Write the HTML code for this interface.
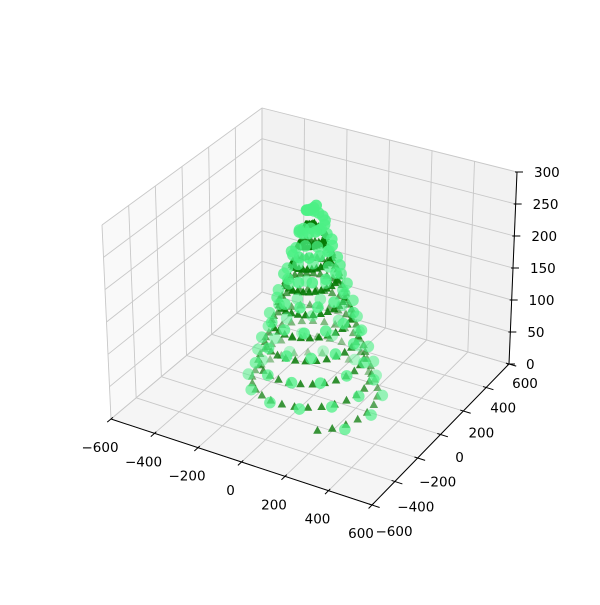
<!DOCTYPE html>
<html><head><meta charset="utf-8"><style>
html,body{margin:0;padding:0;background:#fff;}
svg text{font-family:"DejaVu Sans","Liberation Sans",sans-serif;font-size:13.5px;fill:#000;}
</style></head><body>
<svg id="chart" width="600" height="600" viewBox="0 0 600 600" xmlns="http://www.w3.org/2000/svg">
<rect width="600" height="600" fill="#fff"/>
<g id="panes"></g>
<g id="grid"></g>
<g id="axes"></g>
<g id="tri"></g>
<g id="circ"></g>
</svg>
<script>
// ---- data ----
const xTicks = [-600,-400,-200,0,200,400,600];
const yTicks = [-600,-400,-200,0,200,400,600];
const zTicks = [0,50,100,150,200,250,300];
const xLim = [-600,600], yLim = [-600,600], zLim = [0,300];
// helix descriptors
const triCount = [250];
const triTurns = [9];
const triZRange = [0,272];
const triRadius = [272,26];
const triPhase = [-1.0];
const circCount = [112];
const circTurns = [9];
const circZRange = [0,298];
const circRadius = [290,20];
const circPhase = [-0.6];

const NS = "http://www.w3.org/2000/svg";
function mk(tag, attrs, parent){const e=document.createElementNS(NS,tag);for(const k in attrs)e.setAttribute(k,attrs[k]);parent.appendChild(e);return e;}

const el=30*Math.PI/180, az=-60*Math.PI/180;
const ps=[Math.cos(el)*Math.cos(az),Math.cos(el)*Math.sin(az),Math.sin(el)];
const C000=[111,419], C100=[372,505], C110=[509,364], C010=[262,292];
const C001=[102,225], C101=[375,303], C111=[517,172], C011=[262,108];
function lerp(a,b,t){return [a[0]+(b[0]-a[0])*t,a[1]+(b[1]-a[1])*t];}
function P(x,y,z){
  const tx=(x-xLim[0])/(xLim[1]-xLim[0]), ty=(y-yLim[0])/(yLim[1]-yLim[0]), tz=(z-zLim[0])/(zLim[1]-zLim[0]);
  const b0=lerp(lerp(C000,C100,tx),lerp(C010,C110,tx),ty);
  const b1=lerp(lerp(C001,C101,tx),lerp(C011,C111,tx),ty);
  const s=lerp(b0,b1,tz);
  const depth=-(tx*4*ps[0]+ty*4*ps[1]+tz*3*ps[2]);
  return [s[0],s[1],depth];
}
function pts(list){return list.map(p=>{const q=P(p[0],p[1],p[2]);return q[0].toFixed(2)+","+q[1].toFixed(2);}).join(" ");}

const panes=document.getElementById('panes');
let e;
e=mk('polygon',{points:pts([[-600,-600,0],[-600,600,0],[-600,600,300],[-600,-600,300]]),fill:'#f9f9f9',stroke:'#f9f9f9'},panes);

e=mk('polygon',{points:pts([[-600,600,0],[600,600,0],[600,600,300],[-600,600,300]]),fill:'#f2f2f2',stroke:'#f2f2f2'},panes);

e=mk('polygon',{points:pts([[-600,-600,0],[600,-600,0],[600,600,0],[-600,600,0]]),fill:'#f5f5f5',stroke:'#f5f5f5'},panes);


const grid=document.getElementById('grid');
function line(g,a,b,stroke,sw,name){const p=P(...a),q=P(...b);const l=mk('line',{x1:p[0],y1:p[1],x2:q[0],y2:q[1],stroke:stroke,'stroke-width':sw},g);


return l;}
const gc='#c8c8c8';
xTicks.forEach(x=>{line(grid,[x,-600,0],[x,600,0],gc,0.9,'x-gridline');line(grid,[x,600,0],[x,600,300],gc,0.9,'x-gridline');});
yTicks.forEach(y=>{line(grid,[600,y,0],[-600,y,0],gc,0.9,'y-gridline');line(grid,[-600,y,0],[-600,y,300],gc,0.9,'y-gridline');});
zTicks.forEach(z=>{line(grid,[-600,-600,z],[-600,600,z],gc,0.9,'z-gridline');line(grid,[-600,600,z],[600,600,z],gc,0.9,'z-gridline');});

const axes=document.getElementById('axes');
line(axes,[-600,-600,0],[600,-600,0],'#000',1,'x-axis-line');
line(axes,[600,-600,0],[600,600,0],'#000',1,'y-axis-line');
line(axes,[600,600,0],[600,600,300],'#000',1,'z-axis-line');
function txt(x,y,s,anchor,name){const t=mk('text',{x:x,y:y,'text-anchor':anchor,'dominant-baseline':'central'},axes);t.textContent=s;

}
function lab(n){return n<0?'\u2212'+Math.abs(n):String(n);}
xTicks.forEach(x=>{line(axes,[x,-630,0],[x,-585,0],'#000',1,'x-tick');const p=P(x,-600,0);txt(p[0]-11,p[1]+29,lab(x),'middle','x-tick-label');});
yTicks.forEach((y,i)=>{line(axes,[585,y,0],[635,y,0],'#000',1,'y-tick');const p=P(600,y,0);const f=(y+600)/1200;txt(p[0]+22-6*f,p[1]+27-7*f,lab(y),'middle','y-tick-label');});
zTicks.forEach(z=>{const p=P(600,600,z);const l=mk('line',{x1:p[0]-2,y1:p[1],x2:p[0]+6,y2:p[1],stroke:'#000','stroke-width':1},axes);


txt(p[0]+17,p[1]+1,lab(z),'start','z-tick-label');});

function helix(count,turns,zr,rr,ph){const out=[];for(let i=0;i<count;i++){const t=i/(count-1);const z=zr[0]+(zr[1]-zr[0])*t;const r=rr[0]+(rr[1]-rr[0])*t;const a=ph+turns*2*Math.PI*t;out.push([r*Math.cos(a),r*Math.sin(a),z]);}return out;}
function drawSeries(gid,data,kind){
  const g=document.getElementById(gid);
  const pr=data.map(d=>P(d[0],d[1],d[2]));
  const ds=pr.map(p=>p[2]);const mn=Math.min(...ds),mx=Math.max(...ds);
  const order=pr.map((p,i)=>i).sort((a,b)=>pr[b][2]-pr[a][2]);
  order.forEach(i=>{const p=pr[i];const sat=1-0.7*(p[2]-mn)/((mx-mn)||1);let m;
    if(kind==='tri'){m=mk('polygon',{points:`${p[0]},${p[1]-4.6} ${p[0]-4.3},${p[1]+3.2} ${p[0]+4.3},${p[1]+3.2}`,fill:'#067a06','fill-opacity':(0.95*sat+0.05).toFixed(3)},g);
      }
    else{m=mk('circle',{cx:p[0],cy:p[1],r:5.8,fill:'#4cf085','fill-opacity':(0.75*sat+0.15).toFixed(3)},g);
      }
    });
}
drawSeries('tri',helix(triCount[0],triTurns[0],triZRange,triRadius,triPhase[0]),'tri');
drawSeries('circ',helix(circCount[0],circTurns[0],circZRange,circRadius,circPhase[0]),'circ');
</script>
</body></html>
